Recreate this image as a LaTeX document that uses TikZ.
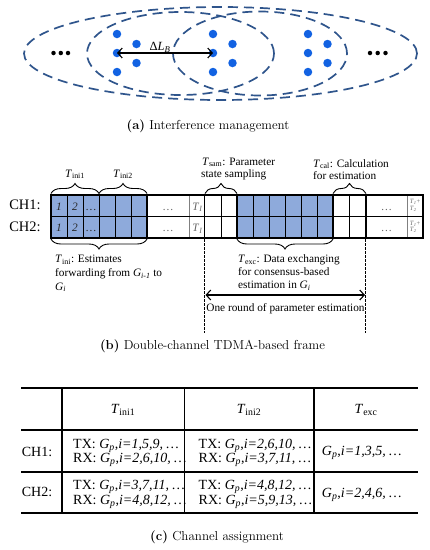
\documentclass[tikz,border=0pt]{standalone}
\usepackage{fontspec}
\newfontfamily\tnr{Liberation Serif}
\usetikzlibrary{decorations.pathreplacing,arrows.meta}
\definecolor{ellc}{RGB}{47,85,140}
\definecolor{dotc}{RGB}{18,98,226}
\definecolor{cellc}{RGB}{142,170,219}
\newcommand{\Tx}[1]{\textit{T}\textsubscript{#1}}
\newcommand{\Gx}[1]{\textit{G}\textsubscript{\textit{#1}}}
\begin{document}
\begin{tikzpicture}[x=1pt,y=-1pt,
  ell/.style={draw=ellc, line width=1.7pt, dash pattern=on 10pt off 6pt},
  bdot/.style={circle, fill=dotc, inner sep=0pt, minimum size=8.5pt},
  edot/.style={circle, fill=black, inner sep=0pt, minimum size=4.5pt},
  lbl/.style={font=\tnr\fontsize{11.3}{13}\selectfont, inner sep=0pt, text=black},
  celltxt/.style={font=\tnr\fontsize{11.3}{13}\selectfont, inner sep=0pt, text=black!85},
  graytxt/.style={font=\tnr\fontsize{11.3}{13}\selectfont, inner sep=0pt, text=black!60},
  tinytxt/.style={font=\tnr\fontsize{6.5}{6.5}\selectfont, inner sep=0pt, text=black!60, align=left},
  chlbl/.style={font=\tnr\fontsize{14.5}{14.5}\selectfont, inner sep=0pt},
  tbl/.style={font=\tnr\fontsize{14}{14}\selectfont, inner sep=0pt},
  captxt/.style={font=\fontsize{13}{15}\selectfont, inner sep=0pt},
  tline/.style={line width=0.8pt, draw=black},
  gline/.style={line width=0.8pt, draw=black!50},
  kline/.style={line width=1.8pt, draw=black},
  brc/.style={decorate, decoration={brace, amplitude=10pt}, line width=0.9pt},
  vdash/.style={line width=0.9pt, dash pattern=on 2.5pt off 1.5pt},
  dbl/.style={{Straight Barb[length=4.5pt,width=10pt]}-{Straight Barb[length=4.5pt,width=10pt]}, line width=1.1pt}
]
\useasboundingbox (0,0) rectangle (430,550);

% ---------------- (a) interference management
\draw[ell] (220.5,53.5) ellipse [x radius=196.5pt, y radius=46.5pt];
\draw[ell] (180.5,53.5) ellipse [x radius=93.5pt, y radius=41.5pt];
\draw[ell] (260,53.5) ellipse [x radius=87pt, y radius=42pt];

\foreach \n/\x in {l/117, m/213, r/308}{
  \node[bdot] (\n1) at (\x,34) {};
  \node[bdot] (\n2) at (\x,53) {};
  \node[bdot] (\n3) at (\x,72) {};
  \node[bdot] (\n4) at (\x+19.5,44) {};
  \node[bdot] (\n5) at (\x+19.5,63) {};
}
\draw[dbl] (l2.center) -- (m2.center);
\node[lbl, font=\tnr\fontsize{12.5}{13}\selectfont, anchor=base] (dl) at (160,50.5) {Δ\textit{L}\textsubscript{\textit{B}}};

\foreach \x [count=\i] in {53.5,60.8,68}{ \node[edot] (el\i) at (\x,53) {}; }
\foreach \x [count=\i] in {370,377.7,385.5}{ \node[edot] (er\i) at (\x,53) {}; }

\node[captxt, anchor=base] (capa) at (208,129) {\textbf{(a)} Interference management};

% ---------------- (b) frame
\fill[cellc] (51,195) rectangle (147,238);
\fill[cellc] (237,195) rectangle (333,238);
\foreach \x in {67,83,99,115,131,221,253,269,285,301,317,349}
  \draw[tline] (\x,195) -- (\x,238);
\foreach \x in {189,407}
  \draw[gline] (\x,195) -- (\x,238);
\draw[kline] (51,195) rectangle (423,238);
\draw[kline] (51,216.5) -- (423,216.5);
\foreach \x in {147,204.5,237,333,366}
  \draw[kline] (\x,195) -- (\x,238);

\node[chlbl, anchor=base] (ch1) at (25,209.5) {CH1:};
\node[chlbl, anchor=base] (ch2) at (25,231.5) {CH2:};

\foreach \r/\y in {1/210, 2/231.5}{
  \node[celltxt, anchor=base] (one\r) at (59,\y) {\textit{1}};
  \node[celltxt, anchor=base] (two\r) at (75,\y) {\textit{2}};
  \node[celltxt, anchor=base] (dd\r) at (91,\y) {\ldots};
  \node[graytxt, anchor=base] (wa\r) at (168,\y) {\ldots};
  \node[graytxt, anchor=base] (ti\r) at (197.5,\y) {\textit{T}\textsubscript{\textit{I}}};
  \node[graytxt, anchor=base] (wb\r) at (386.5,\y) {\ldots};
}
\node[tinytxt] (tt1) at (415,205.5) {\textit{T}\textsubscript{\textit{1}}+\\\textit{T}\textsubscript{\textit{2}}};
\node[tinytxt] (tt2) at (415,227) {\textit{T}\textsubscript{\textit{1}}+\\\textit{T}\textsubscript{\textit{2}}};

% braces
\draw[brc] (51,193.5) -- (99,193.5);
\draw[brc] (99,193.5) -- (147,193.5);
\draw[brc] (205,193.5) -- (237,193.5);
\draw[brc] (333,193.5) -- (366,193.5);
\draw[brc] (147,239) -- (51,239);
\draw[brc] (333,239) -- (237,239);

\node[lbl, anchor=base] (tini1) at (75,177) {\Tx{ini1}};
\node[lbl, anchor=base] (tini2) at (123,177) {\Tx{ini2}};
\node[lbl, anchor=base west] (tsama) at (202,165) {\Tx{sam}: Parameter};
\node[lbl, anchor=base west] (tsamb) at (201,177.5) {state sampling};
\node[lbl, anchor=base west] (tcala) at (313,167) {\Tx{cal}: Calculation};
\node[lbl, anchor=base west] (tcalb) at (313,179.5) {for estimation};
\node[lbl, anchor=base west] (tinia) at (55,262.5) {\Tx{ini}: Estimates};
\node[lbl, anchor=base west] (tinib) at (55,276.5) {forwarding from \Gx{i-1} to};
\node[lbl, anchor=base west] (tinic) at (55,290) {\Gx{i}};
\node[lbl, anchor=base west] (texca) at (238,262.5) {\Tx{exc}: Data exchanging};
\node[lbl, anchor=base west] (texcb) at (238,275.5) {for consensus-based};
\node[lbl, anchor=base west] (texcc) at (238,288.5) {estimation in \Gx{i}};

\coordinate (d1t) at (204.5,239);
\coordinate (d1b) at (204.5,333);
\coordinate (d2t) at (365.5,239);
\coordinate (d2b) at (365.5,333);
\draw[vdash] (d1t) -- (d1b);
\draw[vdash] (d2t) -- (d2b);
\coordinate (arl) at (205.5,295);
\coordinate (arr) at (365,295);
\draw[dbl] (arl) -- (arr);
\node[lbl, anchor=base] (round) at (285.5,311.5) {One round of parameter estimation};

\node[captxt, anchor=base] (capb) at (212.5,349) {\textbf{(b)} Double-channel TDMA-based frame};

% ---------------- (c) table
\foreach \y in {388,430,472,513}
  \draw[line width=1.6pt] (21,\y) -- (418,\y);
\draw[line width=2.2pt] (62,388) -- (62,513);
\draw[line width=1.4pt] (184.5,388) -- (184.5,513);
\draw[line width=1.4pt] (314,388) -- (314,513);

\node[tbl, anchor=base] (h1) at (123,413.5) {\Tx{ini1}};
\node[tbl, anchor=base] (h2) at (249,413.5) {\Tx{ini2}};
\node[tbl, anchor=base] (h3) at (366,413.5) {\Tx{exc}};

\node[tbl, anchor=base] (r1) at (37,456) {CH1:};
\node[tbl, anchor=base] (r2) at (37,496.5) {CH2:};

\node[tbl, anchor=base west] (c11a) at (73,448) {TX: \Gx{p},\textit{i=1,5,9,}\,\ldots};
\node[tbl, anchor=base west] (c11b) at (73,462) {RX: \Gx{p},\textit{i=2,6,10,}\,\ldots};
\node[tbl, anchor=base west] (c12a) at (198.5,448) {TX: \Gx{p},\textit{i=2,6,10,}\,\ldots};
\node[tbl, anchor=base west] (c12b) at (198.5,462) {RX: \Gx{p},\textit{i=3,7,11,}\,\ldots};
\node[tbl, anchor=base] (c13) at (362,455.5) {\Gx{p},\textit{i=1,3,5,}\,\ldots};
\node[tbl, anchor=base west] (c21a) at (73,489.5) {TX: \Gx{p},\textit{i=3,7,11,}\,\ldots};
\node[tbl, anchor=base west] (c21b) at (73,504) {RX: \Gx{p},\textit{i=4,8,12,}\,\ldots};
\node[tbl, anchor=base west] (c22a) at (198.5,489.5) {TX: \Gx{p},\textit{i=4,8,12,}\,\ldots};
\node[tbl, anchor=base west] (c22b) at (198.5,504) {RX: \Gx{p},\textit{i=5,9,13,}\,\ldots};
\node[tbl, anchor=base] (c23) at (362,497) {\Gx{p},\textit{i=2,4,6,}\,\ldots};

\node[captxt, anchor=base] (capc) at (217,540) {\textbf{(c)} Channel assignment};
\end{tikzpicture}
\end{document}
